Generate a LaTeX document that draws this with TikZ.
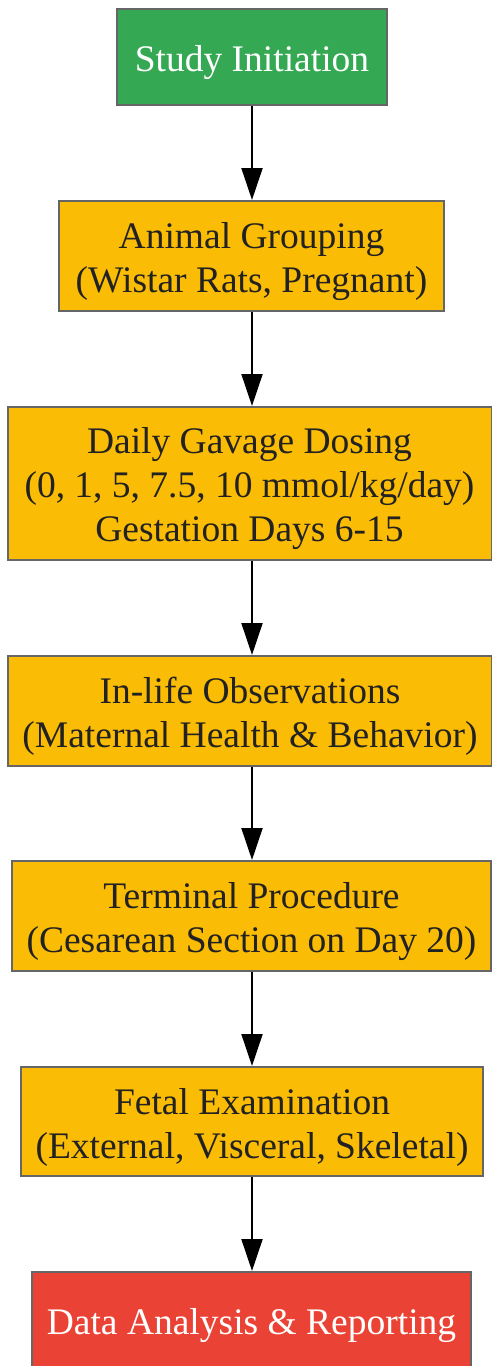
\documentclass[tikz,border=0pt]{standalone}
\usepackage{fontspec}
\setmainfont{Liberation Serif}
\usetikzlibrary{arrows.meta}
\definecolor{gGreen}{HTML}{34A853}
\definecolor{gYellow}{HTML}{FBBC05}
\definecolor{gRed}{HTML}{EA4335}
\definecolor{gBorder}{HTML}{666666}
\definecolor{gText}{HTML}{222222}
\tikzset{
  box/.style={draw=gBorder, line width=2pt, rectangle, inner sep=0pt, fill=gYellow},
  lab/.style={align=center, inner sep=0pt, yshift=-5.5pt,
    font=\fontsize{37.5}{44}\selectfont, text=gText},
  wlab/.style={lab, text=white},
  startbox/.style={box, fill=gGreen},
  endbox/.style={box, fill=gRed},
  flow/.style={draw=black, line width=2pt, -{Triangle[length=32pt,width=21pt]}}
}
\begin{document}
\begin{tikzpicture}[x=1pt,y=1pt]
\useasboundingbox (0,0) rectangle (492,-1366);
\node[startbox, minimum width=270pt, minimum height=96pt, label={[wlab]center:Study Initiation}] (s) at (252,-57) {};
\node[box, minimum width=385pt, minimum height=110pt, label={[lab]center:{Animal Grouping\\(Wistar Rats, Pregnant)}}] (a) at (251.5,-256) {};
\node[box, minimum width=484pt, minimum height=153pt, label={[lab]center:{Daily Gavage Dosing\\(0, 1, 5, 7.5, 10 mmol/kg/day)\\Gestation Days 6-15}}] (d) at (249.5,-483.5) {};
\node[box, minimum width=484pt, minimum height=110pt, label={[lab]center:{In-life Observations\\(Maternal Health \& Behavior)}}] (i) at (250,-711) {};
\node[box, minimum width=479pt, minimum height=110pt, label={[lab]center:{Terminal Procedure\\(Cesarean Section on Day 20)}}] (t) at (251.5,-916) {};
\node[box, minimum width=462pt, minimum height=109pt, label={[lab]center:{Fetal Examination\\(External, Visceral, Skeletal)}}] (f) at (252,-1121.5) {};
\node[endbox, minimum width=439pt, minimum height=96pt, label={[wlab]center:Data Analysis \& Reporting}] (r) at (251.5,-1320) {};
\draw[flow] (s.south -| 252,0) -- (a.north -| 252,0);
\draw[flow] (a.south -| 252,0) -- (d.north -| 252,0);
\draw[flow] (d.south -| 252,0) -- (i.north -| 252,0);
\draw[flow] (i.south -| 252,0) -- (t.north -| 252,0);
\draw[flow] (t.south -| 252,0) -- (f.north -| 252,0);
\draw[flow] (f.south -| 252,0) -- (r.north -| 252,0);
\end{tikzpicture}
\end{document}
